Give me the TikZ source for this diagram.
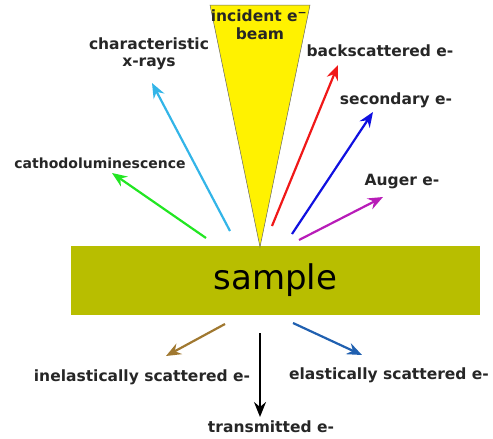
\documentclass[tikz,border=0pt]{standalone}
\usepackage{fontspec}
\setmainfont{DejaVu Sans}
\usetikzlibrary{arrows.meta}
\definecolor{samplecol}{HTML}{B8BE00}
\definecolor{cgreen}{HTML}{22E622}
\definecolor{ccyan}{HTML}{33B5E8}
\definecolor{cred}{HTML}{F01818}
\definecolor{cblue}{HTML}{1010E0}
\definecolor{cmag}{HTML}{B81CB8}
\definecolor{cbrown}{HTML}{A07830}
\definecolor{celast}{HTML}{2060B0}
\tikzset{
  lbl/.style={font=\bfseries\fontsize{15.5}{17}\selectfont, text=black!85, inner sep=0pt, align=center},
  ray/.style={line width=2.2pt, -{Stealth[length=15pt,width=12pt,inset=5pt]}},
}
\begin{document}
\begin{tikzpicture}[x=1pt,y=-1pt]
\useasboundingbox (0,0) rectangle (493,439);
% sample
\node[fill=samplecol, minimum width=409pt, minimum height=69pt, inner sep=0pt,
      font=\fontsize{34}{36}\selectfont] (sample) at (275.5,280.5) {sample};
% beam
\coordinate (bl) at (210,5);
\coordinate (br) at (310,5);
\coordinate (apex) at (260,247);
\filldraw[fill=yellow, draw=black!60, line width=0.5pt] (bl) -- (br) -- (apex) -- cycle;
\node[lbl] (inc) at (259,16) {incident e\textsuperscript{\textminus}};
\node[lbl] (beam) at (260,34) {beam};
% tails/heads
\coordinate (g1) at (206,238); \coordinate (g2) at (112,173);
\coordinate (c1) at (230,231); \coordinate (c2) at (152,83);
\coordinate (r1) at (272,226); \coordinate (r2) at (338,65);
\coordinate (b1) at (292,234); \coordinate (b2) at (373,112);
\coordinate (m1) at (299,240); \coordinate (m2) at (383,197);
\coordinate (n1) at (225,324); \coordinate (n2) at (166,356);
\coordinate (t1) at (260,333); \coordinate (t2) at (260,417);
\coordinate (e1) at (293,323); \coordinate (e2) at (362,355);
\draw[ray, cgreen] (g1) -- (g2);
\draw[ray, ccyan] (c1) -- (c2);
\draw[ray, cred] (r1) -- (r2);
\draw[ray, cblue] (b1) -- (b2);
\draw[ray, cmag] (m1) -- (m2);
\draw[ray, cbrown] (n1) -- (n2);
\draw[ray, black] (t1) -- (t2);
\draw[ray, celast] (e1) -- (e2);
% labels
\node[lbl] (xr) at (149,54) {characteristic\\x-rays};
\node[lbl, font=\bfseries\fontsize{14}{16}\selectfont] (cl) at (100,163) {cathodoluminescence};
\node[lbl] (bs) at (380,51) {backscattered e-};
\node[lbl] (se) at (396,100) {secondary e-};
\node[lbl] (au) at (402,182) {Auger e-};
\node[lbl] (ie) at (142,377) {inelastically scattered e-};
\node[lbl] (ee) at (389,375) {elastically scattered e-};
\node[lbl] (te) at (271,427) {transmitted e-};
\end{tikzpicture}
\end{document}
